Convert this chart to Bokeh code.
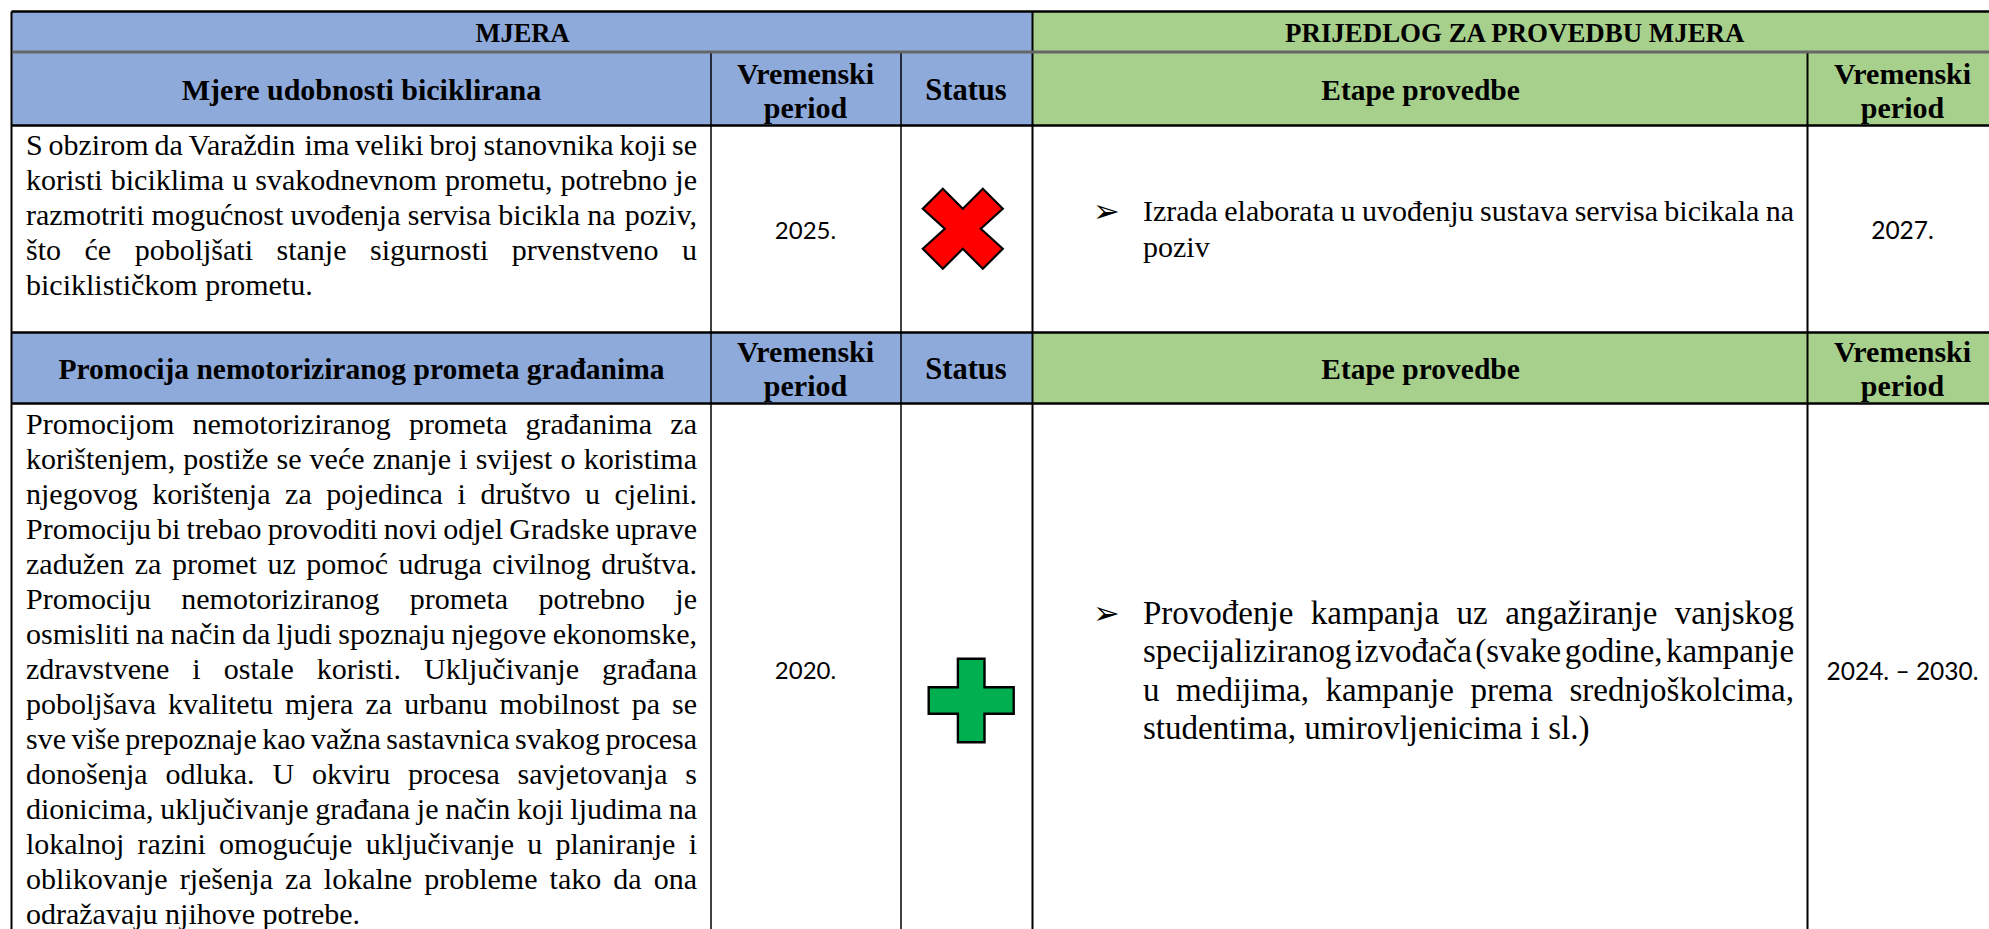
import unicodedata
from bokeh.plotting import figure
from bokeh.models import Range1d, ColumnDataSource
from bokeh.core.properties import value
from bokeh.embed import file_html
from bokeh.resources import INLINE

# ---------- table content ----------
section_titles = ["MJERA", "PRIJEDLOG ZA PROVEDBU MJERA"]
measure_titles = ["Mjere udobnosti biciklirana", "Promocija nemotoriziranog prometa građanima"]
period_words = ["Vremenski", "period"]
status_word = "Status"
stage_title = "Etape provedbe"
measure_periods = ["2025.", "2020."]
proposal_periods = ["2027.", "2024. – 2030."]
bullet = "➢"

measure_1_lines = [
    "S obzirom da Varaždin ima veliki broj stanovnika koji se",
    "koristi biciklima u svakodnevnom prometu, potrebno je",
    "razmotriti mogućnost uvođenja servisa bicikla na poziv,",
    "što će poboljšati stanje sigurnosti prvenstveno u",
    "biciklističkom prometu.",
]
measure_2_lines = [
    "Promocijom nemotoriziranog prometa građanima za",
    "korištenjem, postiže se veće znanje i svijest o koristima",
    "njegovog korištenja za pojedinca i društvo u cjelini.",
    "Promociju bi trebao provoditi novi odjel Gradske uprave",
    "zadužen za promet uz pomoć udruga civilnog društva.",
    "Promociju nemotoriziranog prometa potrebno je",
    "osmisliti na način da ljudi spoznaju njegove ekonomske,",
    "zdravstvene i ostale koristi. Uključivanje građana",
    "poboljšava kvalitetu mjera za urbanu mobilnost pa se",
    "sve više prepoznaje kao važna sastavnica svakog procesa",
    "donošenja odluka. U okviru procesa savjetovanja s",
    "dionicima, uključivanje građana je način koji ljudima na",
    "lokalnoj razini omogućuje uključivanje u planiranje i",
    "oblikovanje rješenja za lokalne probleme tako da ona",
    "odražavaju njihove potrebe.",
]
proposal_1_lines = [
    "Izrada elaborata u uvođenju sustava servisa bicikala na",
    "poziv",
]
proposal_2_lines = [
    "Provođenje kampanja uz angažiranje vanjskog",
    "specijaliziranog izvođača (svake godine, kampanje",
    "u medijima, kampanje prema srednjoškolcima,",
    "studentima, umirovljenicima i sl.)",
]

# ---------- layout and style ----------
BLUE, GREEN = "#8EAADB", "#A8D08D"
SERIF, SANS = "Liberation Serif", "Lato"
W, H = 1989, 929
LEFT, C1, C2, C3, C4, RIGHT = 11, 710.5, 900.5, 1032, 1807, 1989
TOP, R1, R2, R3, R4, BOTTOM = 11, 51.5, 125, 332, 403, 929
BASE_SHIFT = 0.3  # the text glyph draws this fraction of the size below its baseline anchor

p = figure(width=W, height=H, output_backend="svg", toolbar_location=None,
           x_range=Range1d(0, W), y_range=Range1d(H, 0),
           x_axis_type=None, y_axis_type=None, min_border=0, outline_line_color=None,
           background_fill_color="white", border_fill_color="white")
p.grid.visible = False

# header fills
p.quad(left=[LEFT, LEFT], right=[C3, C3], top=[TOP, R3], bottom=[R2, R4], color=BLUE, line_color=None)
p.quad(left=[C3, C3], right=[RIGHT, RIGHT], top=[TOP, R3], bottom=[R2, R4], color=GREEN, line_color=None)

# rules
p.segment(x0=[LEFT] * 4, x1=[RIGHT] * 4, y0=[TOP, R2, R3, R4], y1=[TOP, R2, R3, R4],
          line_color="black", line_width=[2.5, 2.5, 2.5, 2.5], line_cap="butt")
p.segment(x0=[LEFT, C3], x1=[LEFT, C3], y0=[TOP, TOP], y1=[BOTTOM, BOTTOM],
          line_color="black", line_width=2, line_cap="butt")
p.segment(x0=[C1, C2, C4], x1=[C1, C2, C4], y0=[R1] * 3, y1=[BOTTOM] * 3,
          line_color="black", line_width=[1.5, 1.5, 2], line_cap="butt")
p.segment(x0=[LEFT + 1], x1=[RIGHT], y0=[R1], y1=[R1], line_color="#666666", line_width=3, line_cap="butt")

# Times-metric advance widths, used to justify lines word by word
ADV = dict(zip("abcdefghijklmnopqrstuvwxyz",
               [444, 500, 444, 500, 444, 333, 500, 500, 278, 278, 500, 278, 778, 500, 500, 500, 500, 333, 389, 278,
                500, 500, 722, 500, 500, 444]))
ADV.update(dict(zip("ABCDEFGHIJKLMNOPQRSTUVWXYZ",
                    [722, 667, 667, 722, 611, 556, 722, 722, 333, 389, 722, 611, 889, 722, 722, 556, 722, 667, 556,
                     611, 722, 722, 944, 722, 722, 611])))
ADV.update({",": 250, ".": 250, "(": 333, ")": 333, "đ": 500})


def word_width(word, size):
    total = 0
    for ch in word:
        base = ch if ch in ADV else unicodedata.normalize("NFD", ch)[0]
        total += ADV.get(base, 500)
    return total * size / 1000


def justified(lines, x0, x1, first_baseline, pitch, size):
    xs, ys, texts, sizes, aligns = [], [], [], [], []
    for i, line in enumerate(lines):
        words = line.split(" ")
        s = size
        last = i == len(lines) - 1
        natural = sum(word_width(w, s) for w in words)
        gap = 0
        if len(words) > 1:
            gap = (x1 - x0 - natural) / (len(words) - 1)
            if not last and gap < 3.5:
                s = size * (x1 - x0 - 3.5 * (len(words) - 1)) / natural
                natural = sum(word_width(w, s) for w in words)
                gap = (x1 - x0 - natural) / (len(words) - 1)
            if last:
                gap = s * 0.25
        x = x0
        for j, w in enumerate(words):
            flush = not last and j == len(words) - 1 and j > 0
            xs.append(x1 if flush else x)
            aligns.append("right" if flush else "left")
            ys.append(first_baseline + i * pitch - BASE_SHIFT * size)
            texts.append(w)
            sizes.append(f"{s:.2f}px")
            x += word_width(w, s) + gap
    return dict(x=xs, y=ys, text=texts, size=sizes, align=aligns)


blocks = [
    justified(measure_1_lines, 25.5, 696.5, 152.7, 35, 30),
    justified(measure_2_lines, 25.5, 696.5, 432.3, 34.95, 30),
    justified(proposal_1_lines, 1142.5, 1793.5, 219, 35.5, 30),
    justified(proposal_2_lines, 1142.5, 1793.5, 622, 38.5, 33),
]
merged = {k: sum((b[k] for b in blocks), []) for k in blocks[0]}
p.text("x", "y", text="text", source=ColumnDataSource(merged), text_font=value(SERIF),
       text_font_size="size", text_align="align", text_baseline="alphabetic", text_color="black")


def centered(xs, ys, texts, size, font=SERIF, style="bold"):
    ys = [y - BASE_SHIFT * size for y in ys]
    p.text(xs, ys, text=texts, text_font=value(font), text_font_size=value(f"{size}px"), text_font_style=style,
           text_align="center", text_baseline="alphabetic", text_color="black")


centered([522], [40.7], section_titles[:1], 26.5)
centered([1515], [40.7], section_titles[1:], 26.9)
centered([361], [98.3], measure_titles[:1], 30)
centered([361], [377.5], measure_titles[1:], 29.5)
centered([805, 805, 1902, 1902], [81.7, 360, 81.7, 360], [period_words[0]] * 4, 30)
centered([805, 805, 1902, 1902], [115.7, 394, 115.7, 394], [period_words[1]] * 4, 30)
centered([965.5, 965.5], [98.3, 377.5], [status_word] * 2, 30.5)
centered([1420, 1420], [98.3, 377.5], [stage_title] * 2, 29.5)
centered([805, 805], [237, 677], measure_periods, 24, SANS, "normal")
centered([1902, 1902], [237, 677], proposal_periods, 24.5, SANS, "normal")

p.text([1106, 1106], [210, 612], text=[bullet, bullet], text_font=value("DejaVu Sans"),
       text_font_size=value("32px"), text_align="center", text_baseline="middle", text_color="black")

# status icons: outlines relative to the icon's centre
x_outline_dx = [-20, 0, 20, 40, 18, 40, 20, 0, -20, -40, -18, -40]
x_outline_dy = [-40, -20, -40, -20, 0, 20, 40, 20, 40, 20, 0, -20]
plus_outline_dx = [-13.3, 13.3, 13.3, 42.5, 42.5, 13.3, 13.3, -13.3, -13.3, -42.5, -42.5, -13.3]
plus_outline_dy = [-41.7, -41.7, -13.3, -13.3, 13.3, 13.3, 41.7, 41.7, 13.3, 13.3, -13.3, -13.3]
p.patch([962.3 + d for d in x_outline_dx], [228.3 + d for d in x_outline_dy],
        fill_color="#FF0000", line_color="black", line_width=2.2, line_join="miter")
p.patch([970.7 + d for d in plus_outline_dx], [700 + d for d in plus_outline_dy],
        fill_color="#00B050", line_color="black", line_width=2.4, line_join="miter")

open("out.html", "w").write(file_html(p, INLINE))
